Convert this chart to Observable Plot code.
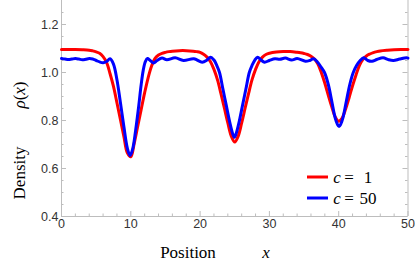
<!DOCTYPE html>
<html><head><meta charset="utf-8">
<script src="https://cdn.jsdelivr.net/npm/d3@7"></script>
<script src="https://cdn.jsdelivr.net/npm/@observablehq/plot@0.6"></script>
<style>body{margin:0;background:#fff}</style>
</head><body><div id="chart"></div>
<script>
const redX = [0,1,2,3,4,4.5,5,5.5,6,6.5,7,7.5,8,8.5,9,9.5,10,10.5,11,11.5,12,12.5,13,13.5,14,14.5,15,15.5,16,17,18,19,19.5,20,20.5,21,21.5,22,22.5,23,23.5,24,24.5,25,25.5,26,26.5,27,27.5,28,28.5,29,29.5,30,31,32,33,34,34.5,35,35.5,36,36.5,37,37.5,38,38.5,39,39.5,40,40.5,41,41.5,42,42.5,43,43.5,44,44.5,45,45.5,46,47,48,49,50];
const redY = [1.096,1.096,1.096,1.095,1.093,1.090,1.086,1.080,1.066,1.042,0.996,0.942,0.874,0.804,0.734,0.665,0.649,0.706,0.776,0.846,0.916,0.978,1.027,1.059,1.073,1.080,1.084,1.087,1.089,1.091,1.091,1.089,1.087,1.084,1.076,1.064,1.045,1.013,0.970,0.913,0.852,0.790,0.735,0.710,0.735,0.790,0.852,0.913,0.970,1.013,1.045,1.064,1.075,1.080,1.085,1.087,1.087,1.084,1.082,1.079,1.075,1.068,1.056,1.035,0.999,0.955,0.905,0.857,0.815,0.797,0.810,0.848,0.895,0.945,0.990,1.030,1.055,1.069,1.077,1.083,1.087,1.090,1.093,1.095,1.096,1.096];
const blueX = [0,0.5,1,1.5,2,2.5,3,3.5,4,4.5,5,5.5,6,6.5,7,7.5,8,8.5,9,9.5,9.9,10.3,10.7,11.1,11.5,11.8,12.1,12.4,12.8,13.3,13.8,14.5,15.2,16.4,17.6,19.1,20.3,21,21.5,22,22.4,22.8,23.3,23.8,24.3,24.7,24.95,25.2,25.6,26.1,26.6,27.1,27.5,27.9,28.3,28.8,29.3,30,30.8,31.5,32.3,33.2,34,35.2,35.8,36.35,36.9,37.4,37.95,38.5,39,39.5,39.8,40.05,40.3,40.6,41.1,41.6,42.1,42.6,43.1,43.6,44.2,44.8,45.5,46.4,47.2,47.9,48.8,49.8,50];
const blueY = [1.058,1.056,1.054,1.056,1.058,1.056,1.053,1.055,1.058,1.056,1.050,1.044,1.041,1.046,1.057,1.035,0.970,0.875,0.775,0.685,0.654,0.685,0.760,0.850,0.950,1.010,1.045,1.058,1.050,1.040,1.050,1.060,1.053,1.061,1.050,1.057,1.043,1.052,1.064,1.052,1.030,1.000,0.930,0.860,0.790,0.745,0.730,0.745,0.790,0.860,0.930,1.000,1.030,1.052,1.064,1.052,1.043,1.050,1.057,1.055,1.060,1.052,1.058,1.047,1.050,1.057,1.045,1.025,1.000,0.950,0.880,0.810,0.785,0.775,0.785,0.810,0.880,0.950,1.000,1.030,1.050,1.061,1.050,1.047,1.054,1.061,1.053,1.050,1.056,1.061,1.060];
const seriesNames = ["c = 1", "c = 50"];
const seriesColors = ["#ff0000", "#0000ff"];
const xMajor = [0,10,20,30,40,50];
const xMinor = [2,4,6,8,12,14,16,18,22,24,26,28,32,34,36,38,42,44,46,48];
const yMajor = [0.4,0.6,0.8,1.0,1.2];
const yMinor = [0.45,0.5,0.55,0.65,0.7,0.75,0.85,0.9,0.95,1.05,1.1,1.15,1.25];
const yTickLabels = ["0.4","0.6","0.8","1.0","1.2"];

const red = redX.map((x,i)=>({x, y: redY[i], s: seriesNames[0]}));
const blue = blueX.map((x,i)=>({x, y: blueY[i], s: seriesNames[1]}));

const frameColor = "#bdbdbd";
const W = 415, H = 273;
const plot = Plot.plot({
  width: W, height: H,
  marginLeft: 61, marginRight: 7.5, marginTop: 0, marginBottom: 57,
  style: {fontFamily: "Liberation Sans, Arial, sans-serif", fontSize: "12.5px", color: "#333", background: "#fff"},
  x: {domain: [0, 50], label: null},
  y: {domain: [0.4, 1.3], label: null},
  marks: [
    Plot.ruleX([0, 50], {stroke: frameColor, strokeWidth: 1}),
    Plot.ruleY([0.4], {stroke: frameColor, strokeWidth: 1}),
    Plot.ruleX(xMajor, {x: d=>d, y1: 0.4, y2: 0.4 + 0.9*5/216, stroke: frameColor}),
    Plot.ruleX(xMinor, {x: d=>d, y1: 0.4, y2: 0.4 + 0.9*2.5/216, stroke: frameColor}),
    Plot.ruleY(yMajor, {y: d=>d, x1: 0, x2: 50*5/346.5, stroke: frameColor}),
    Plot.ruleY(yMinor, {y: d=>d, x1: 0, x2: 50*2.5/346.5, stroke: frameColor}),
    Plot.ruleY(yMajor, {y: d=>d, x1: 50, x2: 50 - 50*5/346.5, stroke: frameColor}),
    Plot.ruleY(yMinor, {y: d=>d, x1: 50, x2: 50 - 50*2.5/346.5, stroke: frameColor}),
    Plot.axisX(xMajor, {tickSize: 0, tickPadding: 3, fontSize: 12.5, label: null}),
    Plot.axisY(yMajor, {tickSize: 0, tickPadding: 3, fontSize: 12.5, label: null, tickFormat: (d,i)=>yTickLabels[i]}),
    Plot.line(red, {x: "x", y: "y", stroke: seriesColors[0], strokeWidth: 3, curve: "catmull-rom"}),
    Plot.line(blue, {x: "x", y: "y", stroke: seriesColors[1], strokeWidth: 3, curve: "catmull-rom"})
  ]
});
document.getElementById("chart").appendChild(plot);
const svg = d3.select(plot);
const serif = "Liberation Serif, Times New Roman, serif";
// axis titles
const xt = svg.append("text").attr("x", 188).attr("y", 258)
  .attr("font-family", serif).attr("font-size", 17).attr("fill", "#000");
xt.append("tspan").text("Position");
xt.append("tspan").attr("x", 266).attr("font-style", "italic").text("x");
const yt = svg.append("text").attr("transform", "translate(25,173) rotate(-90)")
  .attr("font-family", serif).attr("font-size", 17).attr("fill", "#000");
yt.append("tspan").text("Density");
yt.append("tspan").attr("x", 78).attr("font-style", "italic").text("ρ");
yt.append("tspan").text("(");
yt.append("tspan").attr("font-style", "italic").text("x");
yt.append("tspan").text(")");
// legend
const legY = [177, 198];
const legVal = ["1", "50"];
seriesNames.forEach((name, i) => {
  svg.append("line").attr("x1", 307).attr("x2", 328).attr("y1", legY[i]).attr("y2", legY[i])
    .attr("stroke", seriesColors[i]).attr("stroke-width", 3);
  const t = svg.append("text").attr("y", legY[i] + 6).attr("font-family", serif)
    .attr("font-size", 17).attr("fill", "#000");
  t.append("tspan").attr("x", 337).attr("font-style", "italic").text("c");
  t.append("tspan").attr("x", 349).text("=");
  t.append("tspan").attr("x", 368).text(legVal[i]);
});
</script></body></html>
